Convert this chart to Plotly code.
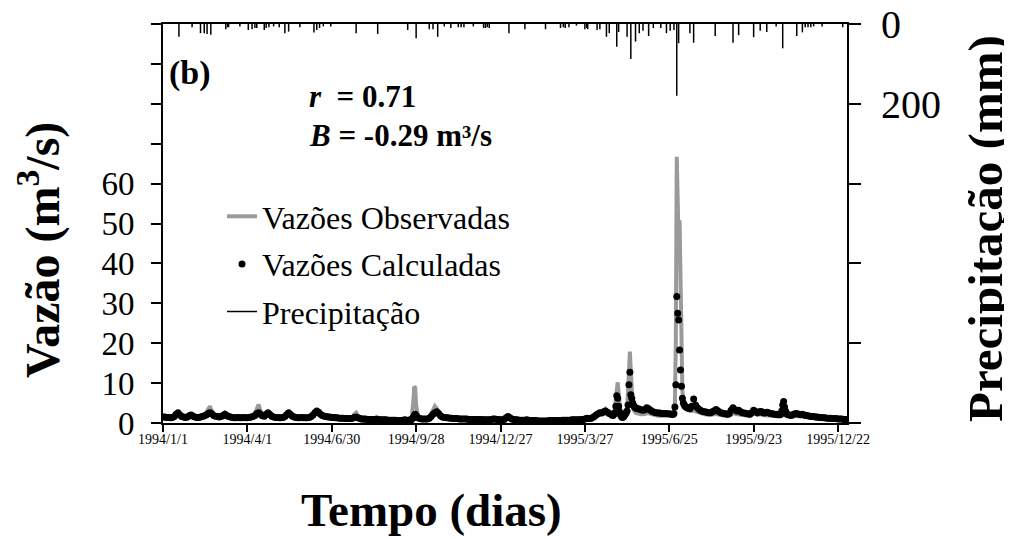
import pandas as pd
import plotly.graph_objects as go

# ---------------- data ----------------
# day offsets from 1994-01-01 (denser sampling around flood peaks)
flow_day = (list(range(0, 265, 2)) + list(range(265, 273)) + list(range(274, 479, 2))
            + list(range(479, 507)) + list(range(508, 545, 2)) + list(range(545, 561))
            + list(range(562, 659, 2)) + list(range(659, 666)) + list(range(666, 729, 2)))

flow_calc = [
    1.5, 1.5, 1.4, 1.4, 1.3, 1.4, 1.6, 2.2, 2.6, 2.0,
    1.6, 1.5, 1.4, 1.5, 1.8, 2.0, 1.7, 1.5, 1.4, 1.4,
    1.5, 1.6, 1.8, 2.0, 2.3, 2.6, 2.3, 1.9, 1.7, 1.6,
    1.5, 1.6, 1.9, 2.2, 1.9, 1.6, 1.5, 1.4, 1.3, 1.3,
    1.4, 1.3, 1.3, 1.4, 1.3, 1.3, 1.4, 1.5, 1.6, 1.9,
    2.3, 2.6, 2.2, 1.8, 1.7, 2.2, 2.6, 2.1, 1.7, 1.5,
    1.4, 1.4, 1.3, 1.3, 1.4, 1.6, 2.1, 2.6, 2.1, 1.7,
    1.5, 1.4, 1.3, 1.3, 1.4, 1.3, 1.3, 1.3, 1.4, 1.6,
    2.0, 2.6, 3.0, 2.7, 2.2, 1.9, 1.7, 1.6, 1.5, 1.5,
    1.4, 1.4, 1.3, 1.3, 1.2, 1.2, 1.2, 1.1, 1.1, 1.1,
    1.1, 1.2, 1.4, 1.5, 1.3, 1.1, 1.0, 1.0, 1.0, 0.9,
    0.9, 0.9, 0.9, 0.9, 1.0, 0.9, 0.8, 0.8, 0.8, 0.8,
    0.7, 0.7, 0.7, 0.7, 0.7, 0.6, 0.6, 0.6, 0.7, 0.8,
    0.7, 0.7, 0.8,
    0.9, 1.1, 1.4, 1.8, 2.2, 1.9, 1.5, 1.3,
    1.1, 1.0, 1.0, 1.0, 1.0, 1.2, 1.6, 2.2, 2.6, 2.8,
    2.4, 1.8, 1.5, 1.4, 1.3, 1.3, 1.2, 1.2, 1.1, 1.1,
    1.1, 1.0, 1.0, 1.0, 1.0, 1.0, 0.9, 0.9, 0.9, 0.9,
    0.9, 0.9, 0.9, 0.9, 0.8, 0.8, 0.8, 0.8, 0.9, 1.0,
    1.0, 0.9, 0.9, 0.8, 0.8, 0.9, 1.3, 1.6, 1.3, 1.0,
    0.9, 0.8, 0.8, 0.7, 0.7, 0.7, 0.7, 0.8, 0.7, 0.6,
    0.6, 0.6, 0.6, 0.5, 0.5, 0.5, 0.5, 0.5, 0.5, 0.6,
    0.6, 0.6, 0.6, 0.6, 0.6, 0.6, 0.7, 0.7, 0.7, 0.7,
    0.7, 0.8, 0.8, 0.8, 0.8, 0.8, 0.9, 0.9, 1.0, 1.2,
    1.1, 1.1, 1.3, 1.6, 2.0, 2.3, 2.6, 2.5, 2.8, 3.0,
    2.7, 2.4, 2.2,
    2.0, 1.9, 2.2, 2.6, 4.2, 6.8, 6.2, 4.2, 2.8, 2.0,
    1.6, 1.4, 1.5, 1.8, 2.2, 2.6, 3.0, 4.5, 9.6, 12.7,
    7.1, 6.2, 5.0, 4.4, 4.0, 3.8, 3.7, 3.6,
    3.5, 3.3, 3.2, 3.3, 3.8, 3.6, 3.2, 2.9, 2.7, 2.6,
    2.5, 2.5, 2.4, 2.4, 2.4, 2.3, 2.3, 2.2, 2.1,
    2.4, 4.0, 9.6, 31.7, 27.5, 25.8, 18.3, 13.3, 9.2, 6.2,
    5.0, 4.5, 4.2, 4.0, 3.8, 3.7,
    3.6, 4.2, 6.0, 4.5, 3.8, 3.4, 3.1, 2.9, 2.8, 2.7,
    2.6, 2.6, 2.8, 3.1, 3.4, 3.0, 2.7, 2.5, 2.4, 2.3,
    2.2, 2.4, 3.2, 3.8, 3.3, 3.0, 3.2, 2.8, 2.6, 2.5,
    2.4, 2.3, 2.2, 2.6, 3.2, 2.9, 2.6, 2.8, 2.9, 2.6,
    2.5, 2.7, 2.6, 2.4, 2.3, 2.2, 2.2, 2.1, 2.1,
    2.2, 3.0, 4.5, 5.4, 4.0, 3.0, 2.4,
    2.1, 2.0, 1.9, 2.1, 2.3, 2.4, 2.2, 2.1, 2.2, 2.0,
    1.9, 1.8, 1.7, 1.6, 1.6, 1.5, 1.5, 1.4, 1.4, 1.3,
    1.3, 1.2, 1.2, 1.2, 1.1, 1.1, 1.1, 1.0, 1.0, 1.0,
    0.9, 0.9,
]

flow_obs = [
    1.4, 1.4, 1.3, 1.3, 1.2, 1.3, 1.5, 1.9, 2.3, 1.8,
    1.5, 1.4, 1.3, 1.3, 1.6, 1.7, 1.5, 1.3, 1.2, 1.2,
    1.3, 1.5, 1.8, 2.4, 3.4, 4.2, 3.0, 2.0, 1.6, 1.5,
    1.4, 1.6, 2.2, 2.6, 2.0, 1.5, 1.3, 1.2, 1.1, 1.1,
    1.2, 1.1, 1.1, 1.2, 1.1, 1.1, 1.3, 1.4, 1.6, 2.4,
    3.8, 4.6, 3.0, 2.0, 1.6, 1.9, 2.3, 1.8, 1.5, 1.3,
    1.2, 1.2, 1.1, 1.1, 1.2, 1.4, 1.9, 2.3, 1.8, 1.4,
    1.3, 1.2, 1.1, 1.1, 1.2, 1.1, 1.1, 1.1, 1.2, 1.5,
    2.0, 2.6, 3.1, 2.5, 2.0, 1.7, 1.5, 1.4, 1.3, 1.3,
    1.2, 1.2, 1.1, 1.0, 1.0, 0.9, 0.9, 0.9, 0.8, 0.8,
    0.8, 1.2, 2.2, 2.6, 1.4, 0.7, 0.6, 0.5, 0.4, 0.3,
    0.3, 0.2, 0.2, 0.2, 0.3, 0.2, 0.2, 0.1, 0.1, 0.1,
    0.1, 0.1, 0.1, 0.1, 0.1, 0.1, 0.1, 0.1, 0.1, 0.2,
    0.2, 0.2, 0.3,
    1.0, 3.0, 5.2, 9.2, 8.8, 4.5, 2.5, 1.6,
    1.1, 0.9, 0.9, 0.8, 0.8, 1.3, 2.2, 3.2, 4.2, 3.6,
    2.4, 1.6, 1.3, 1.2, 1.1, 1.0, 1.0, 0.9, 0.9, 0.9,
    0.8, 0.8, 0.8, 0.8, 0.7, 0.7, 0.7, 0.7, 0.7, 0.6,
    0.6, 0.6, 0.6, 0.6, 0.6, 0.6, 0.6, 0.6, 0.6, 0.7,
    0.8, 0.7, 0.6, 0.6, 0.6, 0.6, 0.9, 1.1, 0.9, 0.7,
    0.6, 0.5, 0.5, 0.5, 0.4, 0.4, 0.4, 0.5, 0.4, 0.4,
    0.4, 0.3, 0.3, 0.3, 0.3, 0.3, 0.3, 0.3, 0.3, 0.3,
    0.3, 0.3, 0.3, 0.4, 0.4, 0.4, 0.4, 0.4, 0.4, 0.5,
    0.5, 0.5, 0.5, 0.5, 0.5, 0.6, 0.6, 0.6, 0.7, 0.9,
    0.8, 0.8, 1.0, 1.4, 1.9, 2.2, 2.6, 2.5, 3.0, 3.5,
    3.0, 2.4, 2.0,
    2.0, 2.2, 2.8, 3.5, 6.0, 9.5, 10.2, 7.5, 4.0, 2.6,
    2.0, 1.8, 1.8, 2.0, 2.2, 2.6, 3.0, 9.0, 14.5, 17.9,
    13.0, 7.5, 4.5, 3.2, 2.8, 2.6, 2.5, 2.4,
    2.3, 2.2, 2.2, 2.3, 2.6, 2.5, 2.3, 2.1, 2.0, 1.9,
    1.8, 1.8, 1.8, 1.7, 1.7, 1.7, 1.7, 1.8, 2.4,
    3.2, 5.0, 20.0, 66.7, 58.0, 45.0, 50.8, 30.0, 15.0, 8.0,
    6.0, 5.0, 4.4, 4.0, 3.7, 3.4,
    3.1, 3.0, 3.2, 2.9, 2.7, 2.5, 2.4, 2.3, 2.2, 2.1,
    2.0, 2.0, 2.1, 2.2, 2.3, 2.1, 2.0, 1.9, 1.8, 1.8,
    1.7, 1.8, 2.2, 2.5, 2.3, 2.2, 2.3, 2.1, 2.0, 1.9,
    1.8, 1.8, 1.7, 2.2, 2.8, 2.4, 2.0, 2.1, 2.2, 2.0,
    1.9, 2.0, 1.9, 1.8, 1.8, 1.7, 1.7, 1.6, 1.6,
    1.7, 2.4, 3.4, 4.0, 3.0, 2.3, 1.9,
    1.7, 1.6, 1.5, 1.6, 1.7, 1.8, 1.7, 1.6, 1.7, 1.5,
    1.5, 1.4, 1.3, 1.3, 1.2, 1.2, 1.1, 1.1, 1.1, 1.0,
    1.0, 1.0, 0.9, 0.9, 0.9, 0.8, 0.8, 0.8, 0.8, 0.7,
    0.7, 0.7,
]

rain_day = [17, 31, 40, 44, 47, 51, 67, 69, 70, 82, 91, 95, 98, 100, 108, 110, 113, 118,
            124, 130, 134, 146, 161, 164, 167, 171, 179, 206, 229, 261, 270, 284, 288,
            293, 300, 307, 315, 318, 321, 331, 342, 344, 346, 348, 369, 386, 408, 424,
            427, 429, 433, 441, 450, 452, 453, 463, 466, 473, 476, 484, 486, 495, 499,
            504, 508, 512, 518, 523, 531, 537, 541, 545, 548, 550, 562, 566, 589, 608,
            614, 630, 637, 644, 654, 661, 676, 682, 685, 688, 691, 694, 703, 725]
rain_mm = [32, 8, 23, 23, 25, 27, 13, 8, 8, 6, 15, 13, 10, 10, 15, 10, 8, 6,
           8, 23, 19, 8, 21, 15, 10, 6, 6, 23, 25, 15, 36, 13, 13,
           32, 6, 10, 8, 8, 8, 6, 10, 10, 8, 10, 23, 13, 13, 10,
           8, 10, 8, 4, 13, 10, 13, 15, 13, 32, 23, 57, 20, 32, 88,
           44, 23, 17, 30, 10, 10, 23, 17, 15, 180, 48, 23, 47, 30, 47,
           28, 33, 17, 20, 6, 61, 30, 21, 8, 8, 8, 6, 6, 8]

x_tick_dates = ["1994-01-01", "1994-04-01", "1994-06-30", "1994-09-28", "1994-12-27",
                "1995-03-27", "1995-06-25", "1995-09-23", "1995-12-22"]
x_tick_text = ["1994/1/1", "1994/4/1", "1994/6/30", "1994/9/28", "1994/12/27",
               "1995/3/27", "1995/6/25", "1995/9/23", "1995/12/22"]
y_tick_vals = [0, 10, 20, 30, 40, 50, 60]
y_tick_text = ["0", "10", "20", "30", "40", "50", "60"]
y2_tick_vals = [0, 200]
y2_tick_text = ["0", "200"]

assert len(flow_day) == len(flow_calc) == len(flow_obs)
assert len(rain_day) == len(rain_mm)

# ---------------- figure ----------------
start = pd.Timestamp("1994-01-01")
flow_dates = [start + pd.Timedelta(days=d) for d in flow_day]
rain_x, rain_y = [], []
for d, mm in zip(rain_day, rain_mm):
    t = start + pd.Timedelta(days=d)
    rain_x += [t, t, None]
    rain_y += [0, mm, None]

SERIF = "Liberation Serif, Times New Roman, serif"
OFF = 8                       # page body margin of the html page
PL, PT, PW, PH = 163, 24, 684, 399   # plot area in page pixels
FW, FH = 1012 - OFF, 539 - OFF
ML, MT = PL - OFF, PT - OFF
MR, MB = FW - ML - PW, FH - MT - PH


def px(xp):
    return (xp - PL) / PW


def py(yp):
    return 1 - (yp - PT) / PH


fig = go.Figure()
fig.add_trace(go.Scatter(x=flow_dates, y=flow_obs, mode="lines", name="Vazões Observadas",
                         line=dict(color="#9a9a9a", width=4), legendgroup="a"))
fig.add_trace(go.Scatter(x=flow_dates, y=flow_calc, mode="markers", name="Vazões Calculadas",
                         marker=dict(color="black", size=7), legendgroup="b"))
fig.add_trace(go.Scatter(x=rain_x, y=rain_y, mode="lines", name="Precipitação", yaxis="y2",
                         line=dict(color="black", width=1.5), legendgroup="c"))

fig.update_layout(
    template="none",
    width=FW, height=FH,
    margin=dict(l=ML, r=MR, t=MT, b=MB, autoexpand=False),
    paper_bgcolor="white", plot_bgcolor="white",
    font=dict(family=SERIF, color="black"),
    showlegend=True,
    legend=dict(x=px(222), y=py(189), xanchor="left", yanchor="top",
                font=dict(family=SERIF, size=32, color="black"),
                bgcolor="rgba(0,0,0,0)", borderwidth=0, tracegroupgap=3, itemwidth=30),
    xaxis=dict(type="date", range=["1994-01-01", "1995-12-31 14:00"], automargin=False,
               tickvals=x_tick_dates, ticktext=x_tick_text,
               tickfont=dict(family=SERIF, size=14, color="black"),
               ticks="outside", ticklen=7, tickwidth=1.5, tickcolor="black",
               ticklabelstandoff=-5,
               showline=True, linecolor="black", linewidth=2, mirror=True,
               showgrid=False, zeroline=False),
    yaxis=dict(range=[0, 100], tickvals=y_tick_vals, ticktext=y_tick_text, automargin=False,
               tickfont=dict(family=SERIF, size=33, color="black"),
               ticks="outside", ticklen=10, tickwidth=1.5, tickcolor="black",
               ticklabelstandoff=10, ticklabeloverflow="allow",
               minor=dict(tickmode="linear", tick0=0, dtick=10, ticks="outside", ticklen=10,
                          tickwidth=1.5, tickcolor="black", showgrid=False),
               showline=True, linecolor="black", linewidth=2,
               showgrid=False, zeroline=False),
    yaxis2=dict(range=[1000, 0], overlaying="y", side="right", automargin=False,
                tickvals=y2_tick_vals, ticktext=y2_tick_text,
                tickfont=dict(family=SERIF, size=40, color="black"),
                ticks="outside", ticklen=12, tickwidth=1.5, tickcolor="black",
                ticklabelstandoff=12, ticklabeloverflow="allow",
                minor=dict(tickmode="linear", tick0=0, dtick=200, ticks="outside", ticklen=12,
                           tickwidth=1.5, tickcolor="black", showgrid=False),
                showline=True, linecolor="black", linewidth=2,
                showgrid=False, zeroline=False),
)

ann = [
    dict(text="<b>(b)</b>", x=px(167), y=py(73), xanchor="left", yanchor="middle", size=34, angle=0),
    dict(text="<b><i>r</i>\u00a0\u00a0= 0.71</b>", x=px(307), y=py(96), xanchor="left", yanchor="middle", size=31, angle=0),
    dict(text="<b><i>B</i> = -0.29 m³/s</b>", x=px(307), y=py(135), xanchor="left", yanchor="middle", size=31, angle=0),
    dict(text="<b>Vazão (m<sup>3</sup>/s)</b>", x=px(39), y=py(250), xanchor="center", yanchor="middle", size=48, angle=-90),
    dict(text="<b>Precipitação (mm)</b>", x=px(985), y=py(229), xanchor="center", yanchor="middle", size=49, angle=-90),
    dict(text="<b>Tempo (dias)</b>", x=px(431), y=py(510), xanchor="center", yanchor="middle", size=47, angle=0),
]
for a in ann:
    fig.add_annotation(text=a["text"], x=a["x"], y=a["y"], xref="paper", yref="paper",
                       xanchor=a["xanchor"], yanchor=a["yanchor"], textangle=a["angle"],
                       showarrow=False, font=dict(family=SERIF, size=a["size"], color="black"))

fig.write_html("out.html")
